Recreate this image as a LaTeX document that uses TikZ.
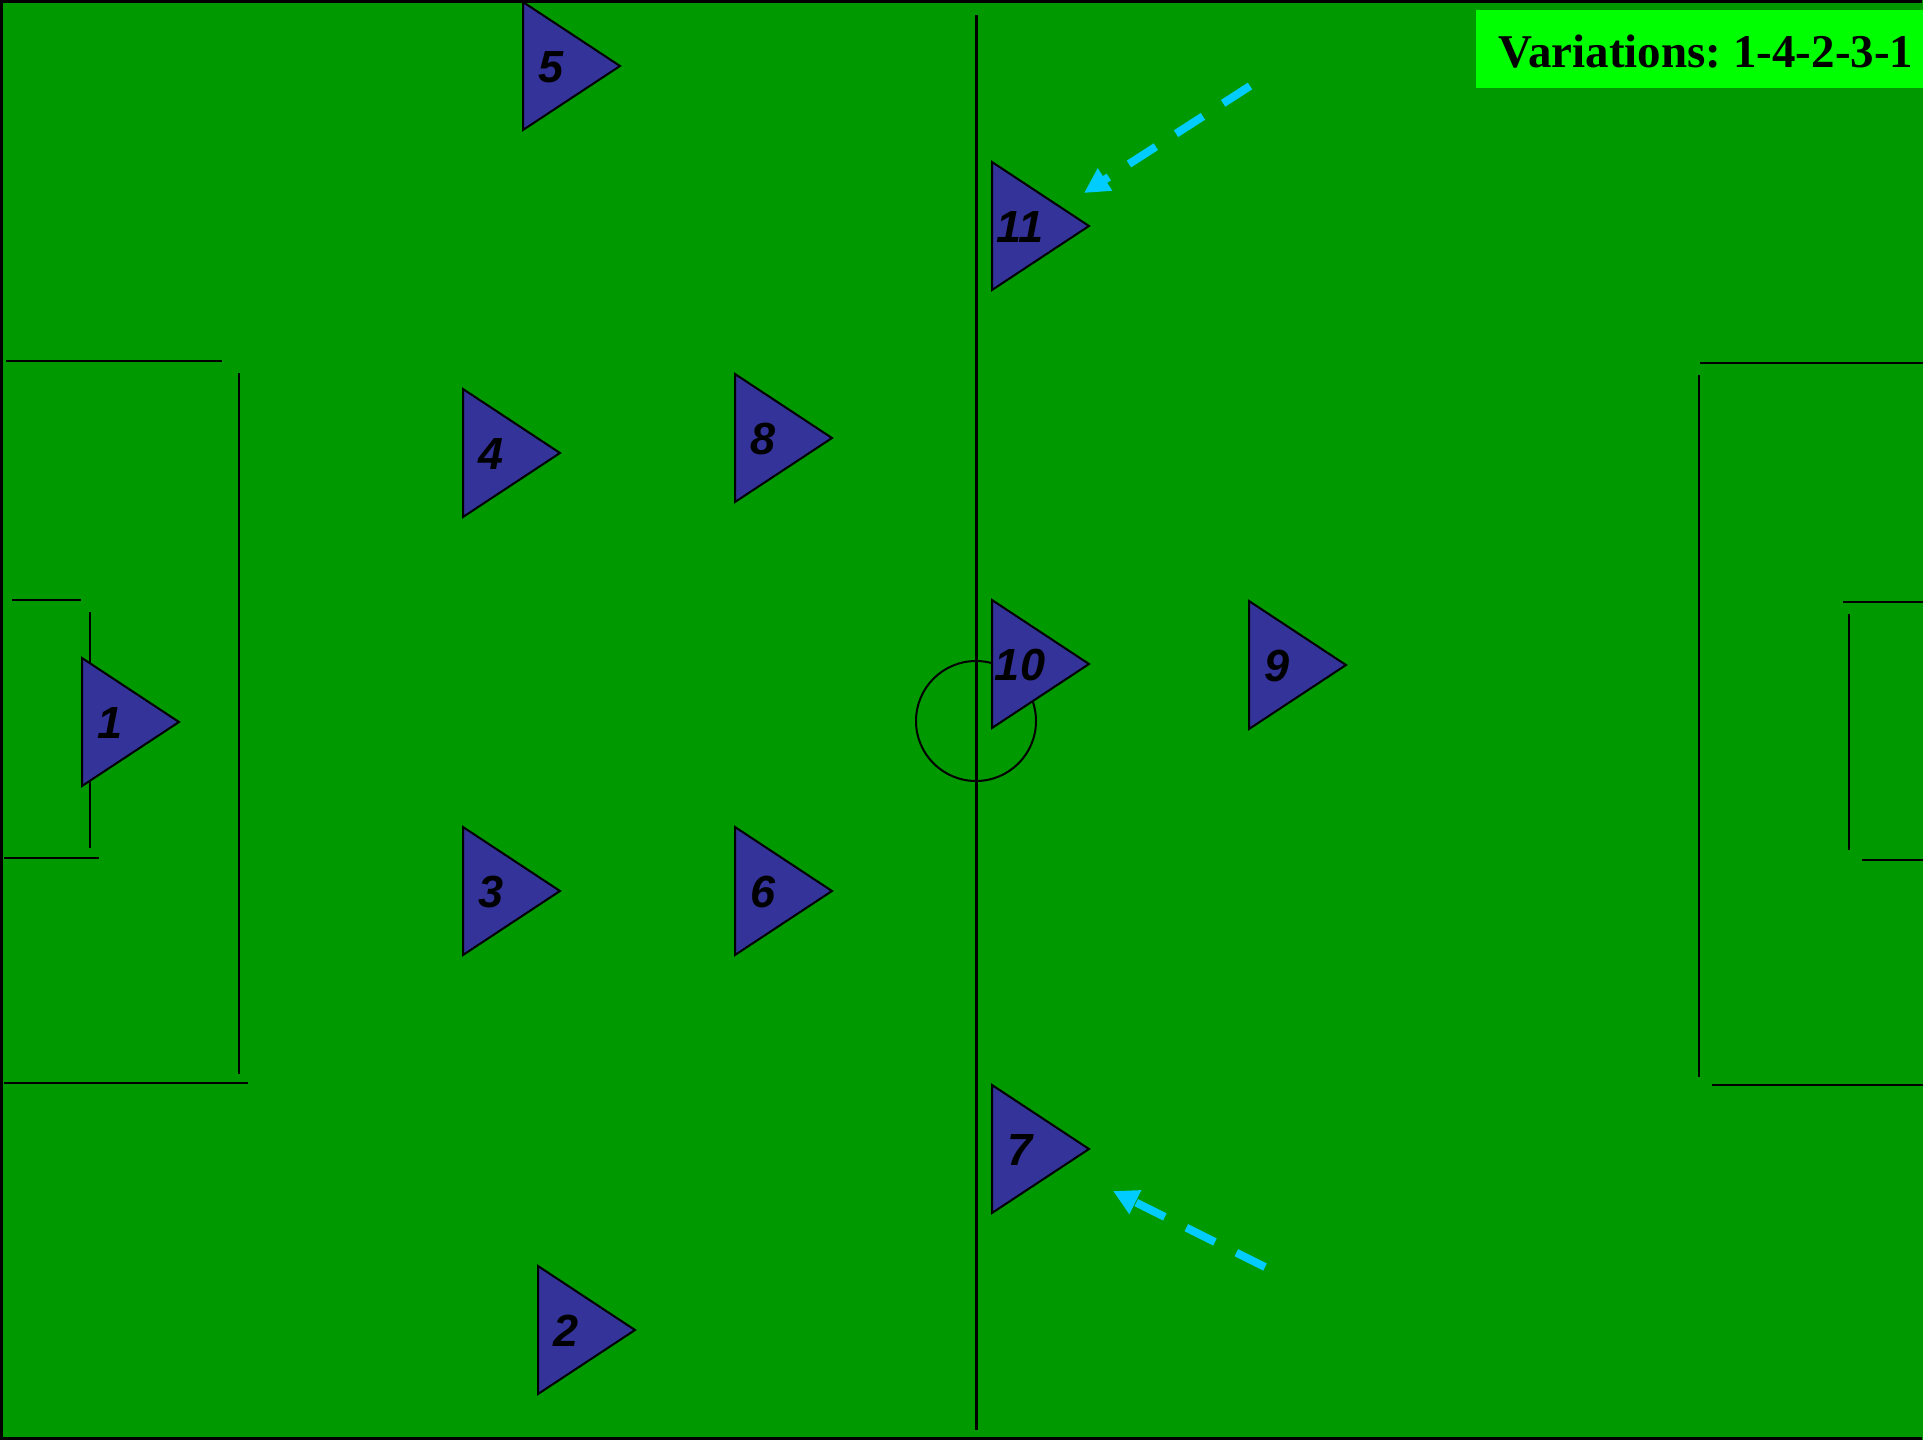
\documentclass[tikz,border=0pt]{standalone}
\usepackage{fontspec}
\setmainfont{Liberation Serif}
\setsansfont{Liberation Sans}
\usetikzlibrary{arrows.meta}
\frenchspacing
\definecolor{field}{HTML}{009900}
\definecolor{titlebg}{HTML}{00FF00}
\definecolor{player}{HTML}{333399}
\definecolor{run}{HTML}{00CCFF}
\tikzset{
  pitchline/.style={black, line width=2.5pt},
  ptri/.style={draw=black, fill=player, line width=2pt, line join=miter},
  plabel/.style={inner sep=0pt, font=\sffamily\bfseries\itshape\fontsize{45}{50}\selectfont},
  runarrow/.style={draw=run, line width=8pt, dash pattern=on 32pt off 24pt, -{Triangle[length=25pt,width=25pt]}},
}
\newcommand\player[4]{%
  \draw[ptri] ({#2},{#3-64}) -- ({#2+97},{#3}) -- ({#2},{#3+64}) -- cycle;
  \node[plabel] (#1) at ({#2+28},{#3+1}) {#4};}
\begin{document}
\begin{tikzpicture}[x=1pt,y=-1pt]
\useasboundingbox (0,0) rectangle (1923,1440);
\fill[field] (0,0) rectangle (1923,1440);
% border
\draw[black, line width=3.5pt] (1922,1.5) -- (1.5,1.5) -- (1.5,1438.5) -- (1922,1438.5);
% left penalty area
\draw[pitchline] (6,361) -- (222,361);
\draw[pitchline] (239,373) -- (239,1074);
\draw[pitchline] (4,1083) -- (248,1083);
\draw[pitchline] (12,600) -- (81,600);
\draw[pitchline] (90,612) -- (90,848);
\draw[pitchline] (4,858) -- (99,858);
% right penalty area
\draw[pitchline] (1700,363) -- (1923,363);
\draw[pitchline] (1699,375) -- (1699,1077);
\draw[pitchline] (1712,1085) -- (1923,1085);
\draw[pitchline] (1843,602) -- (1923,602);
\draw[pitchline] (1849,614) -- (1849,850);
\draw[pitchline] (1862,860) -- (1923,860);
% half-way line and circle
\draw[black, line width=3pt] (976,15) -- (976,1430);
\draw[black, line width=2pt] (976,721) circle[radius=60];
% players
\player{p1}{82}{722}{1}
\player{p2}{538}{1330}{2}
\player{p3}{463}{891}{3}
\player{p4}{463}{453}{4}
\player{p5}{523}{66}{5}
\player{p6}{735}{891}{6}
\player{p7}{992}{1149}{7}
\player{p8}{735}{438}{8}
\player{p9}{1249}{665}{9}
\player{p10}{992}{664}{10}
\player{p11}{992}{226}{11}
% runs
\coordinate (r1s) at (1250,86);
\coordinate (r1e) at (1084,193);
\coordinate (r2s) at (1265,1267);
\coordinate (r2e) at (1113,1191);
\draw[runarrow] (r1s) -- (r1e);
\draw[runarrow] (r2s) -- (r2e);
% title
\fill[titlebg] (1476,10) rectangle (1923,88);
\node[anchor=base, inner sep=0pt, font=\bfseries\fontsize{47}{52}\selectfont] (title) at (1706,67) {Variations: 1-4-2-3-1};
\end{tikzpicture}
\end{document}
